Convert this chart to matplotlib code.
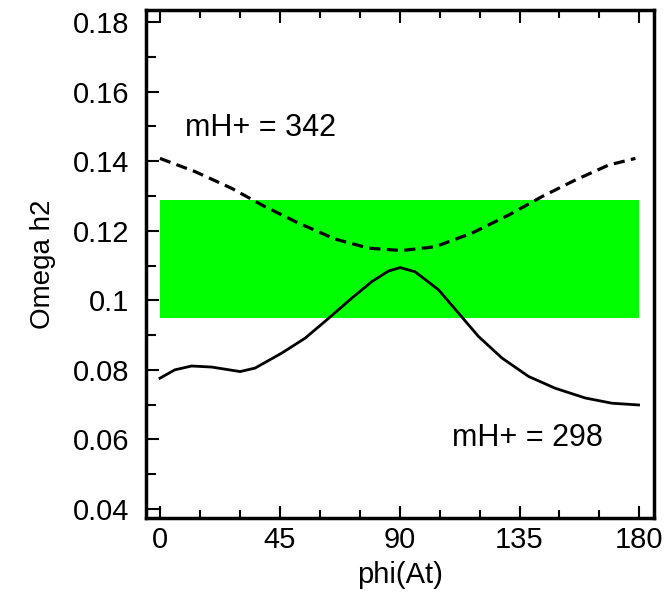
import numpy as np
import matplotlib
matplotlib.use('Agg')
import matplotlib.pyplot as plt
from matplotlib.ticker import MultipleLocator

plt.rcParams['font.family'] = ['Liberation Sans', 'DejaVu Sans']

# mH+ = 342 (dashed)
phi_342 = [0, 13.2, 26.9, 39.5, 52.0, 65.8, 78.3, 90.8, 103.3, 117.1, 130.9, 143.4, 156, 168.5, 178.5]
omega_342 = [0.1408, 0.1370, 0.1322, 0.1269, 0.1222, 0.1176, 0.1150, 0.1143, 0.1154,
             0.1193, 0.1245, 0.1298, 0.1346, 0.1389, 0.1408]

# mH+ = 298 (solid)
phi_298 = [0, 5.6, 11.9, 19.4, 30.1, 35.7, 45.7, 54.5, 63.3, 72.0, 79.6, 85.8, 90.2, 95.8,
           104.6, 112.1, 119.6, 128.4, 138.4, 148.4, 159.7, 169.7, 179.7]
omega_298 = [0.0776, 0.0800, 0.0811, 0.0808, 0.0795, 0.0805, 0.0848, 0.0891, 0.0948, 0.1006,
             0.1054, 0.1084, 0.1094, 0.1082, 0.1030, 0.0963, 0.0896, 0.0834, 0.0781, 0.0747,
             0.0719, 0.0704, 0.0699]

# allowed band
band_lo, band_hi = 0.0948, 0.1287

fig = plt.figure(figsize=(6.69, 6.03), dpi=100)
ax = fig.add_axes([0.218, 0.141, 0.76, 0.842])

ax.fill_between([0, 180], band_lo, band_hi, color='#00ff00', linewidth=0, zorder=1)
ax.plot(phi_342, omega_342, color='black', lw=2.3, ls=(0, (3.5, 2)), zorder=3)
ax.plot(phi_298, omega_298, color='black', lw=2.0, zorder=3)

ax.text(9.4, 0.1472, 'mH+ = 342', fontsize=22, va='baseline', ha='left')
ax.text(109.6, 0.0580, 'mH+ = 298', fontsize=22, va='baseline', ha='left')

ax.set_xlim(-5.3, 185.6)
ax.set_ylim(0.0374, 0.1834)
ax.xaxis.set_major_locator(MultipleLocator(45))
ax.xaxis.set_minor_locator(MultipleLocator(15))
ax.yaxis.set_minor_locator(MultipleLocator(0.01))
ax.set_yticks([0.04, 0.06, 0.08, 0.1, 0.12, 0.14, 0.16, 0.18])
ax.set_yticklabels(['0.04', '0.06', '0.08', '0.1', '0.12', '0.14', '0.16', '0.18'])

ax.tick_params(axis='both', which='both', direction='in', labelsize=21, width=1.5)
ax.tick_params(axis='x', which='major', length=9, top=True, pad=6)
ax.tick_params(axis='x', which='minor', length=6, top=True)
ax.tick_params(axis='y', which='major', length=9, pad=12)
ax.tick_params(axis='y', which='minor', length=7)

for s in ax.spines.values():
    s.set_linewidth(2.5)

ax.set_xlabel('phi(At)', fontsize=21, labelpad=5)
ax.set_ylabel('Omega h2', fontsize=20, labelpad=12)

fig.savefig('out.png', dpi=100)
